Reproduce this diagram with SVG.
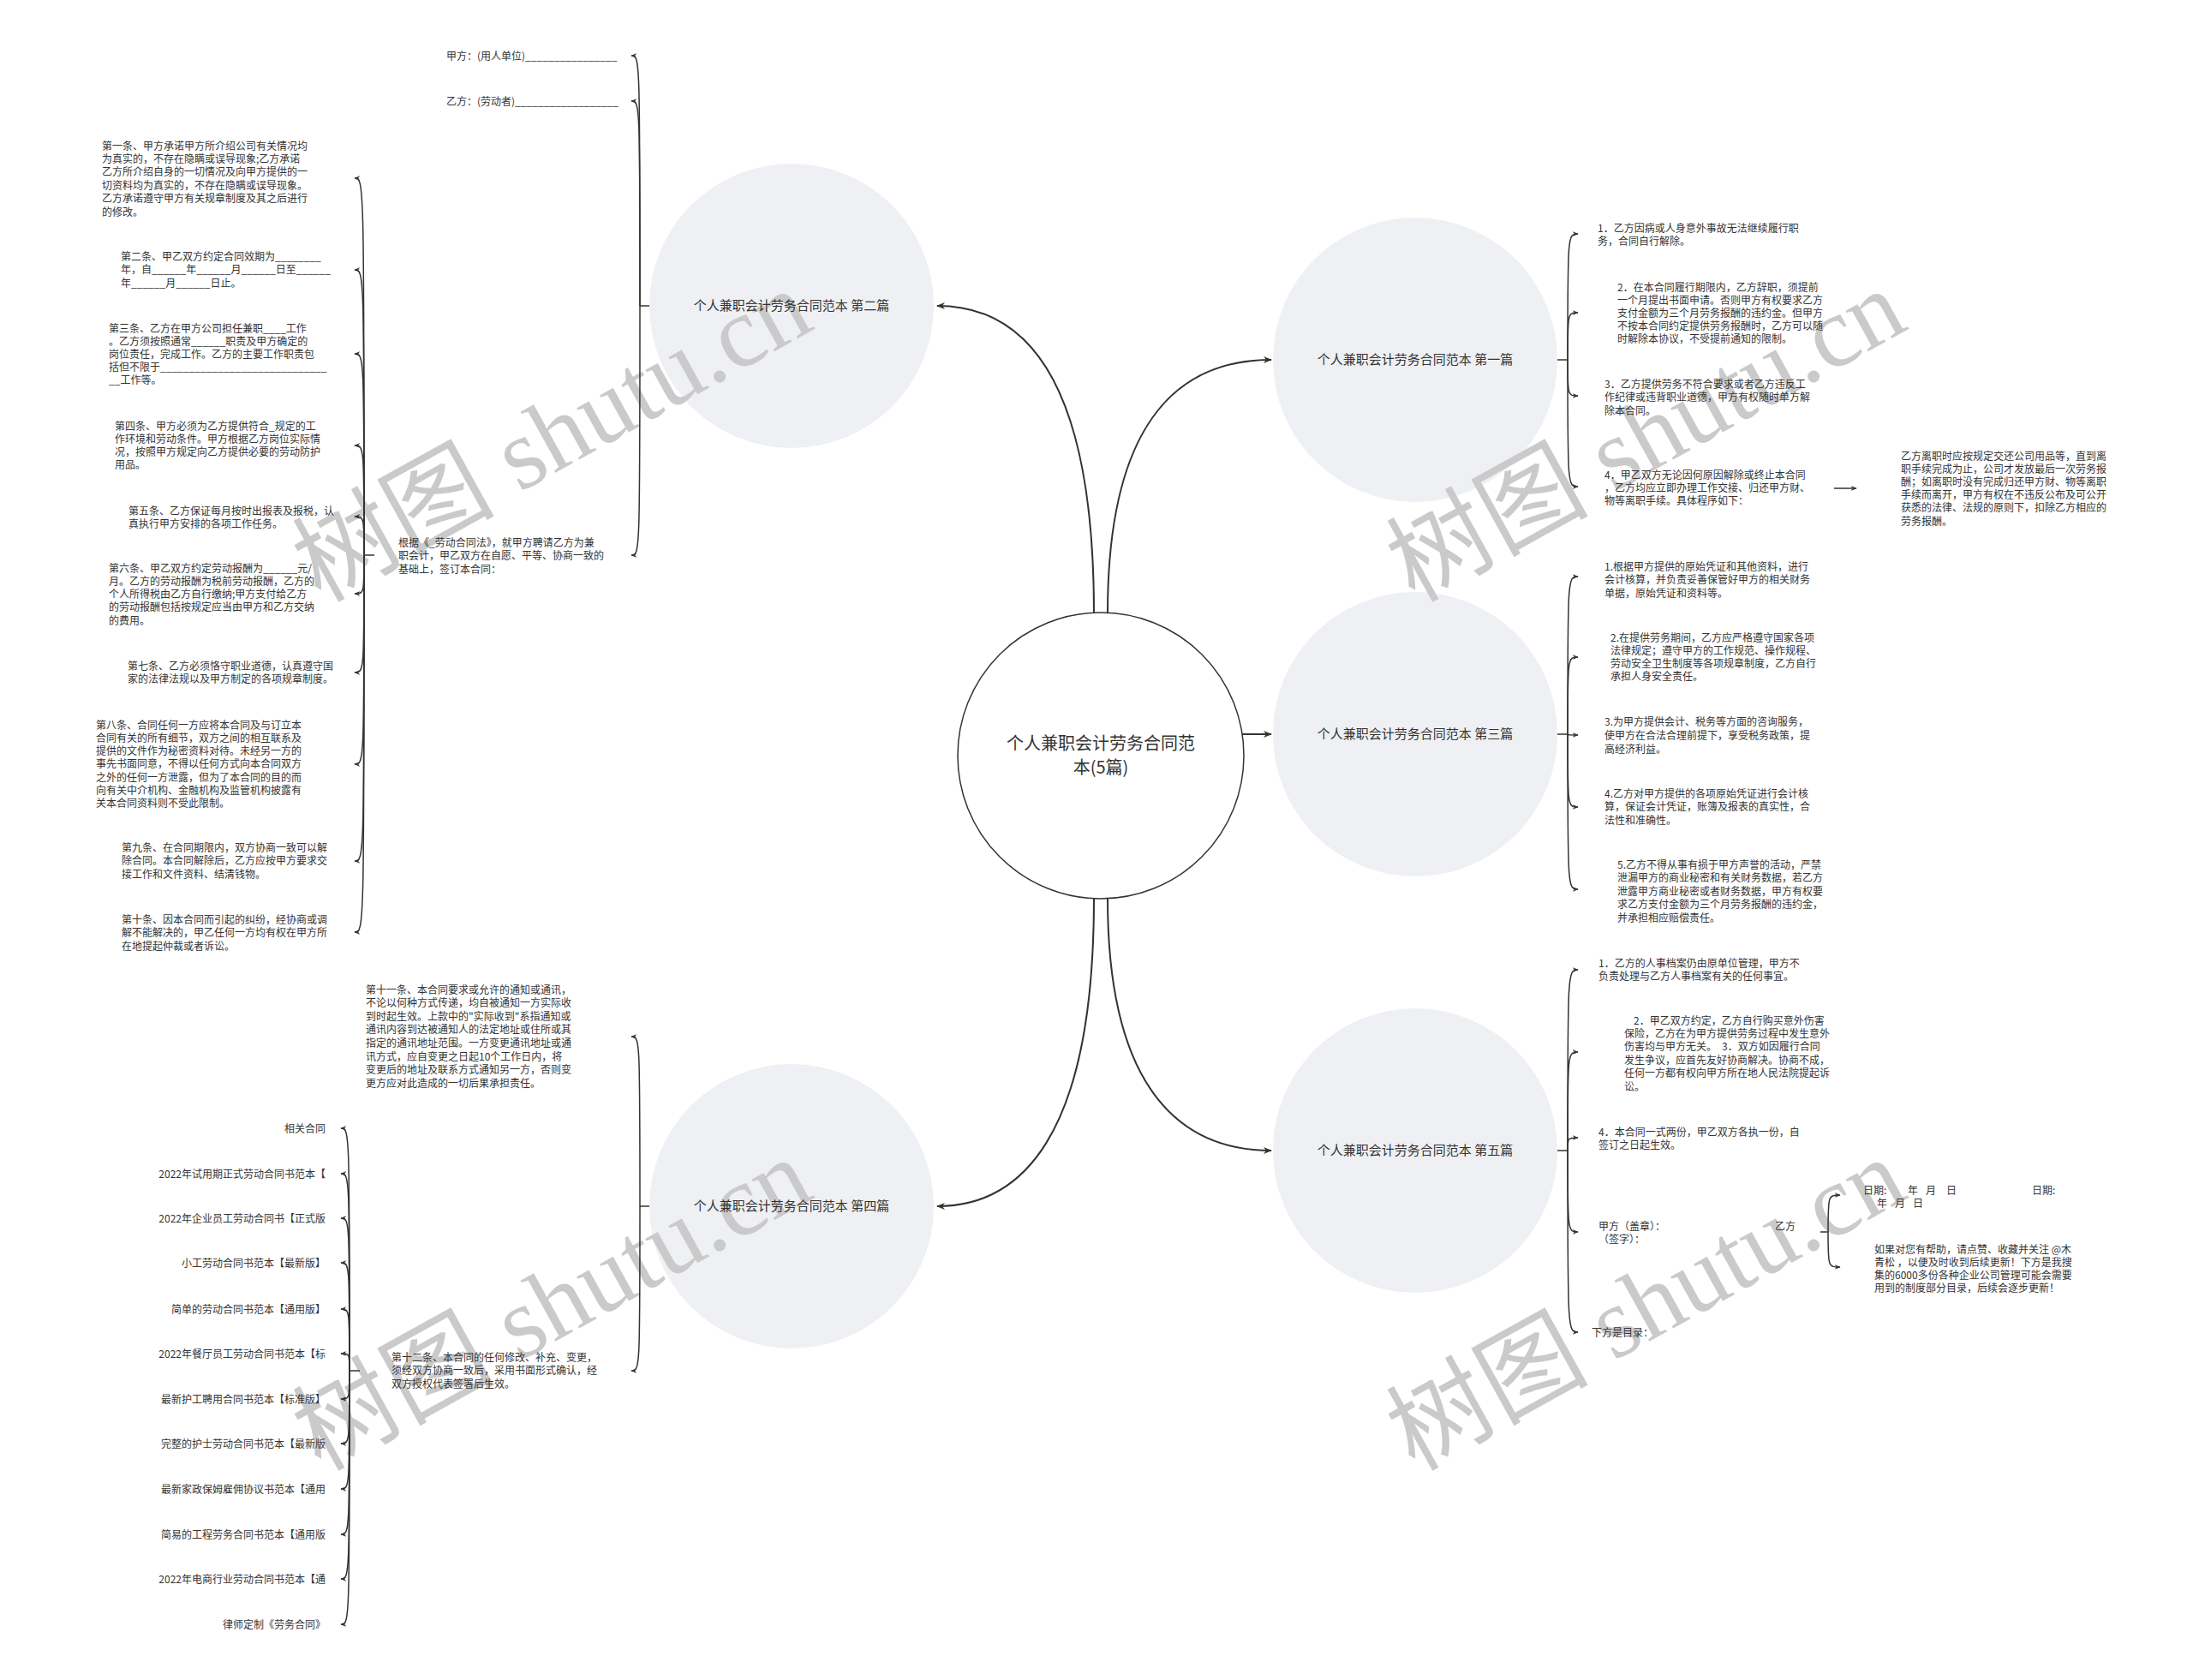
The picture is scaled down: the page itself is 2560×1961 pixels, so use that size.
<svg xmlns="http://www.w3.org/2000/svg" width="2560" height="1961" viewBox="0 0 2560 1961">
<style>
.t{font-family:"Noto Sans CJK SC","Liberation Sans",sans-serif;font-size:12px;fill:#333}
.n{font-family:"Noto Sans CJK SC","Liberation Sans",sans-serif;font-size:15px;fill:#333;text-anchor:middle}
.c{font-family:"Noto Sans CJK SC","Liberation Sans",sans-serif;font-size:20px;fill:#333;text-anchor:middle}
.e{text-anchor:end}
.ln{fill:none;stroke:#333;stroke-width:1.5}
.mn{fill:none;stroke:#333;stroke-width:2}
.bub{fill:#eef0f3}
.wm{font-family:"Liberation Serif","Noto Sans CJK SC",serif;font-size:118px;fill:#cacaca}
</style>
<defs>
<marker id="a" viewBox="0 0 10 10" refX="9" refY="5" markerWidth="7" markerHeight="7" markerUnits="userSpaceOnUse" orient="auto"><path d="M0,1 L10,5 L0,9 L3,5 z" fill="#333"/></marker>
<marker id="b" viewBox="0 0 10 10" refX="9" refY="5" markerWidth="10" markerHeight="10" markerUnits="userSpaceOnUse" orient="auto"><path d="M0,1 L10,5 L0,9 L3,5 z" fill="#333"/></marker>
</defs>
<rect width="2560" height="1961" fill="#fff"/>

<g id="bubbles">
<circle class="bub" cx="924" cy="357" r="166"/>
<circle class="bub" cx="924" cy="1408" r="166"/>
<circle class="bub" cx="1652" cy="420" r="166"/>
<circle class="bub" cx="1652" cy="857" r="166"/>
<circle class="bub" cx="1652" cy="1343" r="166"/>
</g>

<g id="watermark">
<text class="wm" transform="translate(374,704) rotate(-29)">树图 shutu.cn</text>
<text class="wm" transform="translate(374,1718) rotate(-29)">树图 shutu.cn</text>
<text class="wm" transform="translate(1651,704) rotate(-29)">树图 shutu.cn</text>
<text class="wm" transform="translate(1651,1718) rotate(-29)">树图 shutu.cn</text>
</g>

<g id="connectors">
<path class="mn" marker-end="url(#b)" d="M1277 716 C1277 430,1190 357,1094 357"/>
<path class="mn" marker-end="url(#b)" d="M1293 716 C1293 480,1385 420,1484 420"/>
<path class="mn" marker-end="url(#b)" d="M1450 857 L1484 857"/>
<path class="mn" marker-end="url(#b)" d="M1293 1049 C1293 1280,1385 1343,1484 1343"/>
<path class="mn" marker-end="url(#b)" d="M1277 1049 C1277 1330,1190 1408,1094 1408"/>

<path class="ln" d="M758 357 L747 357"/>
<path class="ln" marker-end="url(#a)" d="M747 357 C747 65,747 65,737 65"/>
<path class="ln" marker-end="url(#a)" d="M747 357 C747 118,747 118,737 118"/>
<path class="ln" marker-end="url(#a)" d="M747 357 C747 648,747 648,737 648"/>

<path class="ln" d="M437 648 L425 648"/>
<path class="ln" marker-end="url(#a)" d="M425 648 C425 208,425 208,414 208"/>
<path class="ln" marker-end="url(#a)" d="M425 648 C425 315,425 315,414 315"/>
<path class="ln" marker-end="url(#a)" d="M425 648 C425 413,425 413,414 413"/>
<path class="ln" marker-end="url(#a)" d="M425 648 C425 520,425 520,414 520"/>
<path class="ln" marker-end="url(#a)" d="M425 648 C425 603,425 603,414 603"/>
<path class="ln" marker-end="url(#a)" d="M425 648 C425 693,425 693,414 693"/>
<path class="ln" marker-end="url(#a)" d="M425 648 C425 785,425 785,414 785"/>
<path class="ln" marker-end="url(#a)" d="M425 648 C425 892,425 892,414 892"/>
<path class="ln" marker-end="url(#a)" d="M425 648 C425 1005,425 1005,414 1005"/>
<path class="ln" marker-end="url(#a)" d="M425 648 C425 1088,425 1088,414 1088"/>

<path class="ln" d="M758 1408 L747 1408"/>
<path class="ln" marker-end="url(#a)" d="M747 1408 C747 1210,747 1210,737 1210"/>
<path class="ln" marker-end="url(#a)" d="M747 1408 C747 1600,747 1600,737 1600"/>

<path class="ln" d="M420 1600 L408 1600"/>
<path class="ln" marker-end="url(#a)" d="M408 1600 C408 1317,408 1317,398 1317"/>
<path class="ln" marker-end="url(#a)" d="M408 1600 C408 1370,408 1370,398 1370"/>
<path class="ln" marker-end="url(#a)" d="M408 1600 C408 1422,408 1422,398 1422"/>
<path class="ln" marker-end="url(#a)" d="M408 1600 C408 1474,408 1474,398 1474"/>
<path class="ln" marker-end="url(#a)" d="M408 1600 C408 1528,408 1528,398 1528"/>
<path class="ln" marker-end="url(#a)" d="M408 1600 C408 1580,408 1580,398 1580"/>
<path class="ln" marker-end="url(#a)" d="M408 1600 C408 1633,408 1633,398 1633"/>
<path class="ln" marker-end="url(#a)" d="M408 1600 C408 1685,408 1685,398 1685"/>
<path class="ln" marker-end="url(#a)" d="M408 1600 C408 1738,408 1738,398 1738"/>
<path class="ln" marker-end="url(#a)" d="M408 1600 C408 1791,408 1791,398 1791"/>
<path class="ln" marker-end="url(#a)" d="M408 1600 C408 1843,408 1843,398 1843"/>
<path class="ln" marker-end="url(#a)" d="M408 1600 C408 1896,408 1896,398 1896"/>

<path class="ln" d="M1818 420 L1830 420"/>
<path class="ln" marker-end="url(#a)" d="M1830 420 C1830 273,1830 273,1842 273"/>
<path class="ln" marker-end="url(#a)" d="M1830 420 C1830 365,1830 365,1842 365"/>
<path class="ln" marker-end="url(#a)" d="M1830 420 C1830 462,1830 462,1842 462"/>
<path class="ln" marker-end="url(#a)" d="M1830 420 C1830 568,1830 568,1842 568"/>
<path class="ln" marker-end="url(#a)" d="M2141 570 L2167 570"/>

<path class="ln" d="M1818 857 L1830 857"/>
<path class="ln" marker-end="url(#a)" d="M1830 857 C1830 673,1830 673,1842 673"/>
<path class="ln" marker-end="url(#a)" d="M1830 857 C1830 767,1830 767,1842 767"/>
<path class="ln" marker-end="url(#a)" d="M1830 857 C1830 858,1830 858,1842 858"/>
<path class="ln" marker-end="url(#a)" d="M1830 857 C1830 942,1830 942,1842 942"/>
<path class="ln" marker-end="url(#a)" d="M1830 857 C1830 1038,1830 1038,1842 1038"/>

<path class="ln" d="M1818 1343 L1830 1343"/>
<path class="ln" marker-end="url(#a)" d="M1830 1343 C1830 1132,1830 1132,1842 1132"/>
<path class="ln" marker-end="url(#a)" d="M1830 1343 C1830 1228,1830 1228,1842 1228"/>
<path class="ln" marker-end="url(#a)" d="M1830 1343 C1830 1328,1830 1328,1842 1328"/>
<path class="ln" marker-end="url(#a)" d="M1830 1343 C1830 1438,1830 1438,1842 1438"/>
<path class="ln" marker-end="url(#a)" d="M1830 1343 C1830 1555,1830 1555,1842 1555"/>

<path class="ln" d="M2125 1438 L2134 1438"/>
<path class="ln" marker-end="url(#a)" d="M2134 1438 C2134 1395,2134 1395,2148 1395"/>
<path class="ln" marker-end="url(#a)" d="M2134 1438 C2134 1479,2134 1479,2148 1479"/>
</g>

<g id="center">
<circle cx="1285" cy="882" r="167" fill="#fff" stroke="#333" stroke-width="1.5"/>
<text class="c" x="1285" y="875">个人兼职会计劳务合同范</text>
<text class="c" x="1285" y="903">本(5篇)</text>
</g>

<g id="node-p2"><text class="n" x="924" y="362">个人兼职会计劳务合同范本 第二篇</text></g>
<g id="node-p4"><text class="n" x="924" y="1413">个人兼职会计劳务合同范本 第四篇</text></g>
<g id="node-p1"><text class="n" x="1652" y="425">个人兼职会计劳务合同范本 第一篇</text></g>
<g id="node-p3"><text class="n" x="1652" y="862">个人兼职会计劳务合同范本 第三篇</text></g>
<g id="node-p5"><text class="n" x="1652" y="1348">个人兼职会计劳务合同范本 第五篇</text></g>

<g id="node-jia"><text class="t" x="521" y="69.5">甲方：(用人单位)________________</text></g>
<g id="node-yi"><text class="t" x="521" y="122.5">乙方：(劳动者)__________________</text></g>
<g id="node-genju"><text class="t" x="465" y="637.5"><tspan x="465">根据《_劳动合同法》，就甲方聘请乙方为兼</tspan><tspan x="465" dy="15.5">职会计，甲乙双方在自愿、平等、协商一致的</tspan><tspan x="465" dy="15.5">基础上，签订本合同：</tspan></text></g>

<g id="node-a1"><text class="t" x="119" y="174.5"><tspan x="119">第一条、甲方承诺甲方所介绍公司有关情况均</tspan><tspan x="119" dy="15.4">为真实的，不存在隐瞒或误导现象;乙方承诺</tspan><tspan x="119" dy="15.4">乙方所介绍自身的一切情况及向甲方提供的一</tspan><tspan x="119" dy="15.4">切资料均为真实的，不存在隐瞒或误导现象。</tspan><tspan x="119" dy="15.4">乙方承诺遵守甲方有关规章制度及其之后进行</tspan><tspan x="119" dy="15.4">的修改。</tspan></text></g>
<g id="node-a2"><text class="t" x="141" y="303.5"><tspan x="141">第二条、甲乙双方约定合同效期为________</tspan><tspan x="141" dy="15.5">年，自______年______月______日至______</tspan><tspan x="141" dy="15.5">年______月______日止。</tspan></text></g>
<g id="node-a3"><text class="t" x="127" y="387.5"><tspan x="127">第三条、乙方在甲方公司担任兼职____工作</tspan><tspan x="127" dy="15">。乙方须按照通常______职责及甲方确定的</tspan><tspan x="127" dy="15">岗位责任，完成工作。乙方的主要工作职责包</tspan><tspan x="127" dy="15">括但不限于_____________________________</tspan><tspan x="127" dy="15">__工作等。</tspan></text></g>
<g id="node-a4"><text class="t" x="134" y="501.5"><tspan x="134">第四条、甲方必须为乙方提供符合_规定的工</tspan><tspan x="134" dy="15.3">作环境和劳动条件。甲方根据乙方岗位实际情</tspan><tspan x="134" dy="15.3">况，按照甲方规定向乙方提供必要的劳动防护</tspan><tspan x="134" dy="15.3">用品。</tspan></text></g>
<g id="node-a5"><text class="t" x="150" y="600.5"><tspan x="150">第五条、乙方保证每月按时出报表及报税，认</tspan><tspan x="150" dy="15">真执行甲方安排的各项工作任务。</tspan></text></g>
<g id="node-a6"><text class="t" x="127" y="667.5"><tspan x="127">第六条、甲乙双方约定劳动报酬为______元/</tspan><tspan x="127" dy="15.3">月。乙方的劳动报酬为税前劳动报酬，乙方的</tspan><tspan x="127" dy="15.3">个人所得税由乙方自行缴纳;甲方支付给乙方</tspan><tspan x="127" dy="15.3">的劳动报酬包括按规定应当由甲方和乙方交纳</tspan><tspan x="127" dy="15.3">的费用。</tspan></text></g>
<g id="node-a7"><text class="t" x="149" y="781.5"><tspan x="149">第七条、乙方必须恪守职业道德，认真遵守国</tspan><tspan x="149" dy="15.7">家的法律法规以及甲方制定的各项规章制度。</tspan></text></g>
<g id="node-a8"><text class="t" x="112" y="850.5"><tspan x="112">第八条、合同任何一方应将本合同及与订立本</tspan><tspan x="112" dy="15.3">合同有关的所有细节，双方之间的相互联系及</tspan><tspan x="112" dy="15.3">提供的文件作为秘密资料对待。未经另一方的</tspan><tspan x="112" dy="15.3">事先书面同意，不得以任何方式向本合同双方</tspan><tspan x="112" dy="15.3">之外的任何一方泄露，但为了本合同的目的而</tspan><tspan x="112" dy="15.3">向有关中介机构、金融机构及监管机构披露有</tspan><tspan x="112" dy="15.3">关本合同资料则不受此限制。</tspan></text></g>
<g id="node-a9"><text class="t" x="142" y="993.5"><tspan x="142">第九条、在合同期限内，双方协商一致可以解</tspan><tspan x="142" dy="15.5">除合同。本合同解除后，乙方应按甲方要求交</tspan><tspan x="142" dy="15.5">接工作和文件资料、结清钱物。</tspan></text></g>
<g id="node-a10"><text class="t" x="142" y="1077.5"><tspan x="142">第十条、因本合同而引起的纠纷，经协商或调</tspan><tspan x="142" dy="15.5">解不能解决的，甲乙任何一方均有权在甲方所</tspan><tspan x="142" dy="15.5">在地提起仲裁或者诉讼。</tspan></text></g>

<g id="node-a11"><text class="t" x="427" y="1159.5"><tspan x="427">第十一条、本合同要求或允许的通知或通讯，</tspan><tspan x="427" dy="15.6">不论以何种方式传递，均自被通知一方实际收</tspan><tspan x="427" dy="15.6">到时起生效。上款中的"实际收到"系指通知或</tspan><tspan x="427" dy="15.6">通讯内容到达被通知人的法定地址或住所或其</tspan><tspan x="427" dy="15.6">指定的通讯地址范围。一方变更通讯地址或通</tspan><tspan x="427" dy="15.6">讯方式，应自变更之日起10个工作日内，将</tspan><tspan x="427" dy="15.6">变更后的地址及联系方式通知另一方，否则变</tspan><tspan x="427" dy="15.6">更方应对此造成的一切后果承担责任。</tspan></text></g>
<g id="node-a12"><text class="t" x="457" y="1588.5"><tspan x="457">第十二条、本合同的任何修改、补充、变更，</tspan><tspan x="457" dy="15.5">须经双方协商一致后，采用书面形式确认，经</tspan><tspan x="457" dy="15.5">双方授权代表签署后生效。</tspan></text></g>

<g id="list">
<g id="l1"><text class="t e" x="380" y="1321.5">相关合同</text></g>
<g id="l2"><text class="t e" x="380" y="1374.5">2022年试用期正式劳动合同书范本【</text></g>
<g id="l3"><text class="t e" x="380" y="1426.5">2022年企业员工劳动合同书【正式版</text></g>
<g id="l4"><text class="t e" x="380" y="1478.5">小工劳动合同书范本【最新版】</text></g>
<g id="l5"><text class="t e" x="380" y="1532.5">简单的劳动合同书范本【通用版】</text></g>
<g id="l6"><text class="t e" x="380" y="1584.5">2022年餐厅员工劳动合同书范本【标</text></g>
<g id="l7"><text class="t e" x="380" y="1637.5">最新护工聘用合同书范本【标准版】</text></g>
<g id="l8"><text class="t e" x="380" y="1689.5">完整的护士劳动合同书范本【最新版</text></g>
<g id="l9"><text class="t e" x="380" y="1742.5">最新家政保姆雇佣协议书范本【通用</text></g>
<g id="l10"><text class="t e" x="380" y="1795.5">简易的工程劳务合同书范本【通用版</text></g>
<g id="l11"><text class="t e" x="380" y="1847.5">2022年电商行业劳动合同书范本【通</text></g>
<g id="l12"><text class="t e" x="380" y="1900.5">律师定制《劳务合同》</text></g>
</g>

<g id="node-r1-1"><text class="t" x="1865" y="270.5"><tspan x="1865">1．乙方因病或人身意外事故无法继续履行职</tspan><tspan x="1865" dy="15.5">务，合同自行解除。</tspan></text></g>
<g id="node-r1-2"><text class="t" x="1888" y="339.5"><tspan x="1888">2．在本合同履行期限内，乙方辞职，须提前</tspan><tspan x="1888" dy="15">一个月提出书面申请。否则甲方有权要求乙方</tspan><tspan x="1888" dy="15">支付金额为三个月劳务报酬的违约金。但甲方</tspan><tspan x="1888" dy="15">不按本合同约定提供劳务报酬时，乙方可以随</tspan><tspan x="1888" dy="15">时解除本协议，不受提前通知的限制。</tspan></text></g>
<g id="node-r1-3"><text class="t" x="1873" y="452.5"><tspan x="1873">3．乙方提供劳务不符合要求或者乙方违反工</tspan><tspan x="1873" dy="15.5">作纪律或违背职业道德，甲方有权随时单方解</tspan><tspan x="1873" dy="15.5">除本合同。</tspan></text></g>
<g id="node-r1-4"><text class="t" x="1873" y="558.5"><tspan x="1873">4．甲乙双方无论因何原因解除或终止本合同</tspan><tspan x="1873" dy="15">，乙方均应立即办理工作交接、归还甲方财、</tspan><tspan x="1873" dy="15">物等离职手续。具体程序如下：</tspan></text></g>
<g id="node-r1-4a"><text class="t" x="2219" y="536.5"><tspan x="2219">乙方离职时应按规定交还公司用品等，直到离</tspan><tspan x="2219" dy="15.2">职手续完成为止，公司才发放最后一次劳务报</tspan><tspan x="2219" dy="15.2">酬；如离职时没有完成归还甲方财、物等离职</tspan><tspan x="2219" dy="15.2">手续而离开，甲方有权在不违反公布及可公开</tspan><tspan x="2219" dy="15.2">获悉的法律、法规的原则下，扣除乙方相应的</tspan><tspan x="2219" dy="15.2">劳务报酬。</tspan></text></g>

<g id="node-r3-1"><text class="t" x="1873" y="665.5"><tspan x="1873">1.根据甲方提供的原始凭证和其他资料，进行</tspan><tspan x="1873" dy="15.5">会计核算，并负责妥善保管好甲方的相关财务</tspan><tspan x="1873" dy="15.5">单据，原始凭证和资料等。</tspan></text></g>
<g id="node-r3-2"><text class="t" x="1880" y="748.5"><tspan x="1880">2.在提供劳务期间，乙方应严格遵守国家各项</tspan><tspan x="1880" dy="15.3">法律规定；遵守甲方的工作规范、操作规程、</tspan><tspan x="1880" dy="15.3">劳动安全卫生制度等各项规章制度，乙方自行</tspan><tspan x="1880" dy="15.3">承担人身安全责任。</tspan></text></g>
<g id="node-r3-3"><text class="t" x="1873" y="846.5"><tspan x="1873">3.为甲方提供会计、税务等方面的咨询服务，</tspan><tspan x="1873" dy="16">使甲方在合法合理前提下，享受税务政策，提</tspan><tspan x="1873" dy="16">高经济利益。</tspan></text></g>
<g id="node-r3-4"><text class="t" x="1873" y="930.5"><tspan x="1873">4.乙方对甲方提供的各项原始凭证进行会计核</tspan><tspan x="1873" dy="15.5">算，保证会计凭证，账簿及报表的真实性，合</tspan><tspan x="1873" dy="15.5">法性和准确性。</tspan></text></g>
<g id="node-r3-5"><text class="t" x="1888" y="1013.5"><tspan x="1888">5.乙方不得从事有损于甲方声誉的活动，严禁</tspan><tspan x="1888" dy="15.5">泄漏甲方的商业秘密和有关财务数据，若乙方</tspan><tspan x="1888" dy="15.5">泄露甲方商业秘密或者财务数据，甲方有权要</tspan><tspan x="1888" dy="15.5">求乙方支付金额为三个月劳务报酬的违约金，</tspan><tspan x="1888" dy="15.5">并承担相应赔偿责任。</tspan></text></g>

<g id="node-r5-1"><text class="t" x="1866" y="1128.5"><tspan x="1866">1．乙方的人事档案仍由原单位管理，甲方不</tspan><tspan x="1866" dy="15.3">负责处理与乙方人事档案有关的任何事宜。</tspan></text></g>
<g id="node-r5-2"><text class="t" x="1907" y="1195.5"><tspan x="1907">2．甲乙双方约定，乙方自行购买意外伤害</tspan><tspan x="1896" dy="15.4">保险，乙方在为甲方提供劳务过程中发生意外</tspan><tspan x="1896" dy="15.4">伤害均与甲方无关。　3．双方如因履行合同</tspan><tspan x="1896" dy="15.4">发生争议，应首先友好协商解决。协商不成，</tspan><tspan x="1896" dy="15.4">任何一方都有权向甲方所在地人民法院提起诉</tspan><tspan x="1896" dy="15.4">讼。</tspan></text></g>
<g id="node-r5-3"><text class="t" x="1866" y="1325.5"><tspan x="1866">4．本合同一式两份，甲乙双方各执一份，自</tspan><tspan x="1866" dy="15">签订之日起生效。</tspan></text></g>
<g id="node-r5-4"><text class="t" x="1866" y="1435.5"><tspan x="1866">甲方（盖章）：</tspan><tspan x="2072">乙方</tspan><tspan x="1866" y="1450.5">（签字）：</tspan></text></g>
<g id="node-r5-5"><text class="t" x="1858" y="1559.5">下方是目录：</text></g>
<g id="node-date"><text class="t" x="2175" y="1393.5"><tspan x="2175">日期:</tspan><tspan x="2227">年</tspan><tspan x="2248">月</tspan><tspan x="2272">日</tspan><tspan x="2372">日期:</tspan><tspan x="2191" y="1408.5">年</tspan><tspan x="2212">月</tspan><tspan x="2233">日</tspan></text></g>
<g id="node-note"><text class="t" x="2188" y="1462.5"><tspan x="2188">如果对您有帮助，请点赞、收藏并关注 @木</tspan><tspan x="2188" dy="15">青松 ，以便及时收到后续更新！下方是我搜</tspan><tspan x="2188" dy="15">集的6000多份各种企业公司管理可能会需要</tspan><tspan x="2188" dy="15">用到的制度部分目录，后续会逐步更新！</tspan></text></g>
</svg>
